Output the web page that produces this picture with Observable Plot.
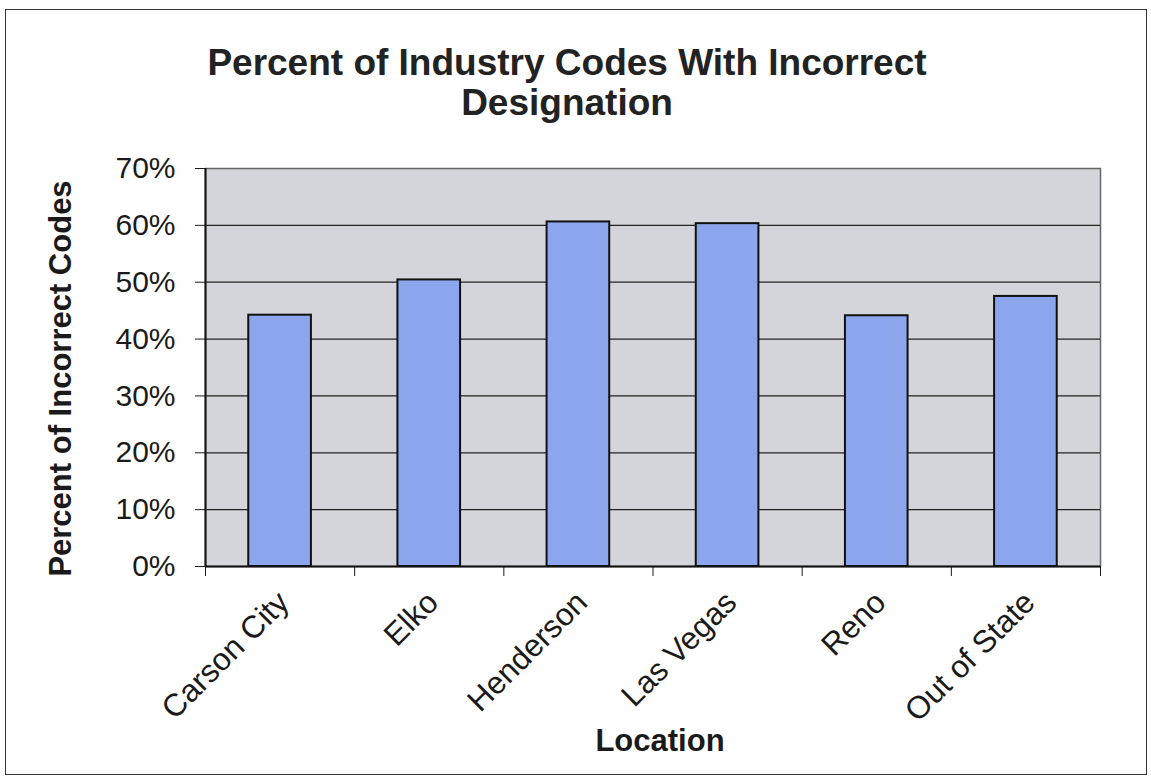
<!DOCTYPE html>
<html>
<head>
<meta charset="utf-8">
<script src="https://cdn.jsdelivr.net/npm/d3@7"></script>
<script src="https://cdn.jsdelivr.net/npm/@observablehq/plot@0.6"></script>
<style>
  body { margin: 0; background: #fff; }
  #page { position: relative; width: 1151px; height: 777px; overflow: hidden;
          font-family: "Liberation Sans", Arial, sans-serif; }
  #border { position: absolute; left: 5px; top: 9px; width: 1142px; height: 766px;
            border: 1.5px solid #333; box-sizing: border-box; }
  #chart { position: absolute; left: 0; top: 0; }
  #title { position: absolute; left: 0; width: 1134px; top: 43px; text-align: center;
           font-size: 37px; font-weight: bold; line-height: 40px; color: #222; }
</style>
</head>
<body>
<div id="page">
  <div id="border"></div>
  <div id="chart"></div>
  <div id="title">Percent of Industry Codes With Incorrect<br>Designation</div>
</div>
<script>
// Share of industry codes with an incorrect designation, by location
const locations = ["Carson City", "Elko", "Henderson", "Las Vegas", "Reno", "Out of State"];
const percentIncorrect = [0.442, 0.504, 0.606, 0.603, 0.441, 0.475];
const yTicks = [0, 0.1, 0.2, 0.3, 0.4, 0.5, 0.6, 0.7];
const yTitle = "Percent of Incorrect Codes";
const xTitle = "Location";

const rows = locations.map((name, i) => ({name, i, value: percentIncorrect[i]}));

const font = '"Liberation Sans", Arial, sans-serif';
const barGap = 0.29; // empty share of each category slot on either side of its bar

const chart = Plot.plot({
  width: 1151,
  height: 777,
  marginLeft: 205,
  marginRight: 51,
  marginTop: 168,
  marginBottom: 211,
  style: {fontFamily: font, background: "transparent", color: "#1a1a1a", overflow: "visible"},
  x: {domain: [0, locations.length]},
  y: {domain: [0, 0.7]},
  marks: [
    Plot.frame({fill: "#d4d5da", stroke: "#666", strokeWidth: 1.5}),
    Plot.ruleY(yTicks.slice(1, -1), {stroke: "#222", strokeWidth: 1.2}),
    Plot.rectY(rows, {
      x1: d => d.i + barGap,
      x2: d => d.i + 1 - barGap,
      y1: 0,
      y2: "value",
      fill: "#8ba6ec",
      stroke: "#111",
      strokeWidth: 2
    }),
    Plot.ruleX([0], {stroke: "#111", strokeWidth: 2}),
    Plot.ruleY([0], {stroke: "#111", strokeWidth: 2}),
    Plot.axisY({
      ticks: yTicks,
      tickFormat: d3.format(".0%"),
      tickSize: 10,
      tickPadding: 20,
      fontSize: 30,
      label: null
    }),
    Plot.axisX({
      ticks: d3.range(locations.length + 1),
      tickFormat: () => "",
      tickSize: 10,
      label: null
    }),
    Plot.text(rows, {
      x: d => d.i + 0.5,
      y: 0,
      text: "name",
      rotate: -45,
      textAnchor: "end",
      lineAnchor: "top",
      dx: -5,
      dy: 22,
      fontSize: 31.5,
      fill: "#1a1a1a"
    }),
    Plot.text([xTitle], {
      frameAnchor: "bottom",
      lineAnchor: "middle",
      dx: 7,
      dy: 175,
      fontSize: 31,
      fontWeight: "bold",
      fill: "#1a1a1a"
    }),
    Plot.text([yTitle], {
      frameAnchor: "left",
      textAnchor: "middle",
      lineAnchor: "middle",
      rotate: -90,
      dx: -144,
      dy: 11,
      fontSize: 31,
      fontWeight: "bold",
      fill: "#1a1a1a"
    })
  ]
});

document.getElementById("chart").append(chart);
</script>
</body>
</html>
